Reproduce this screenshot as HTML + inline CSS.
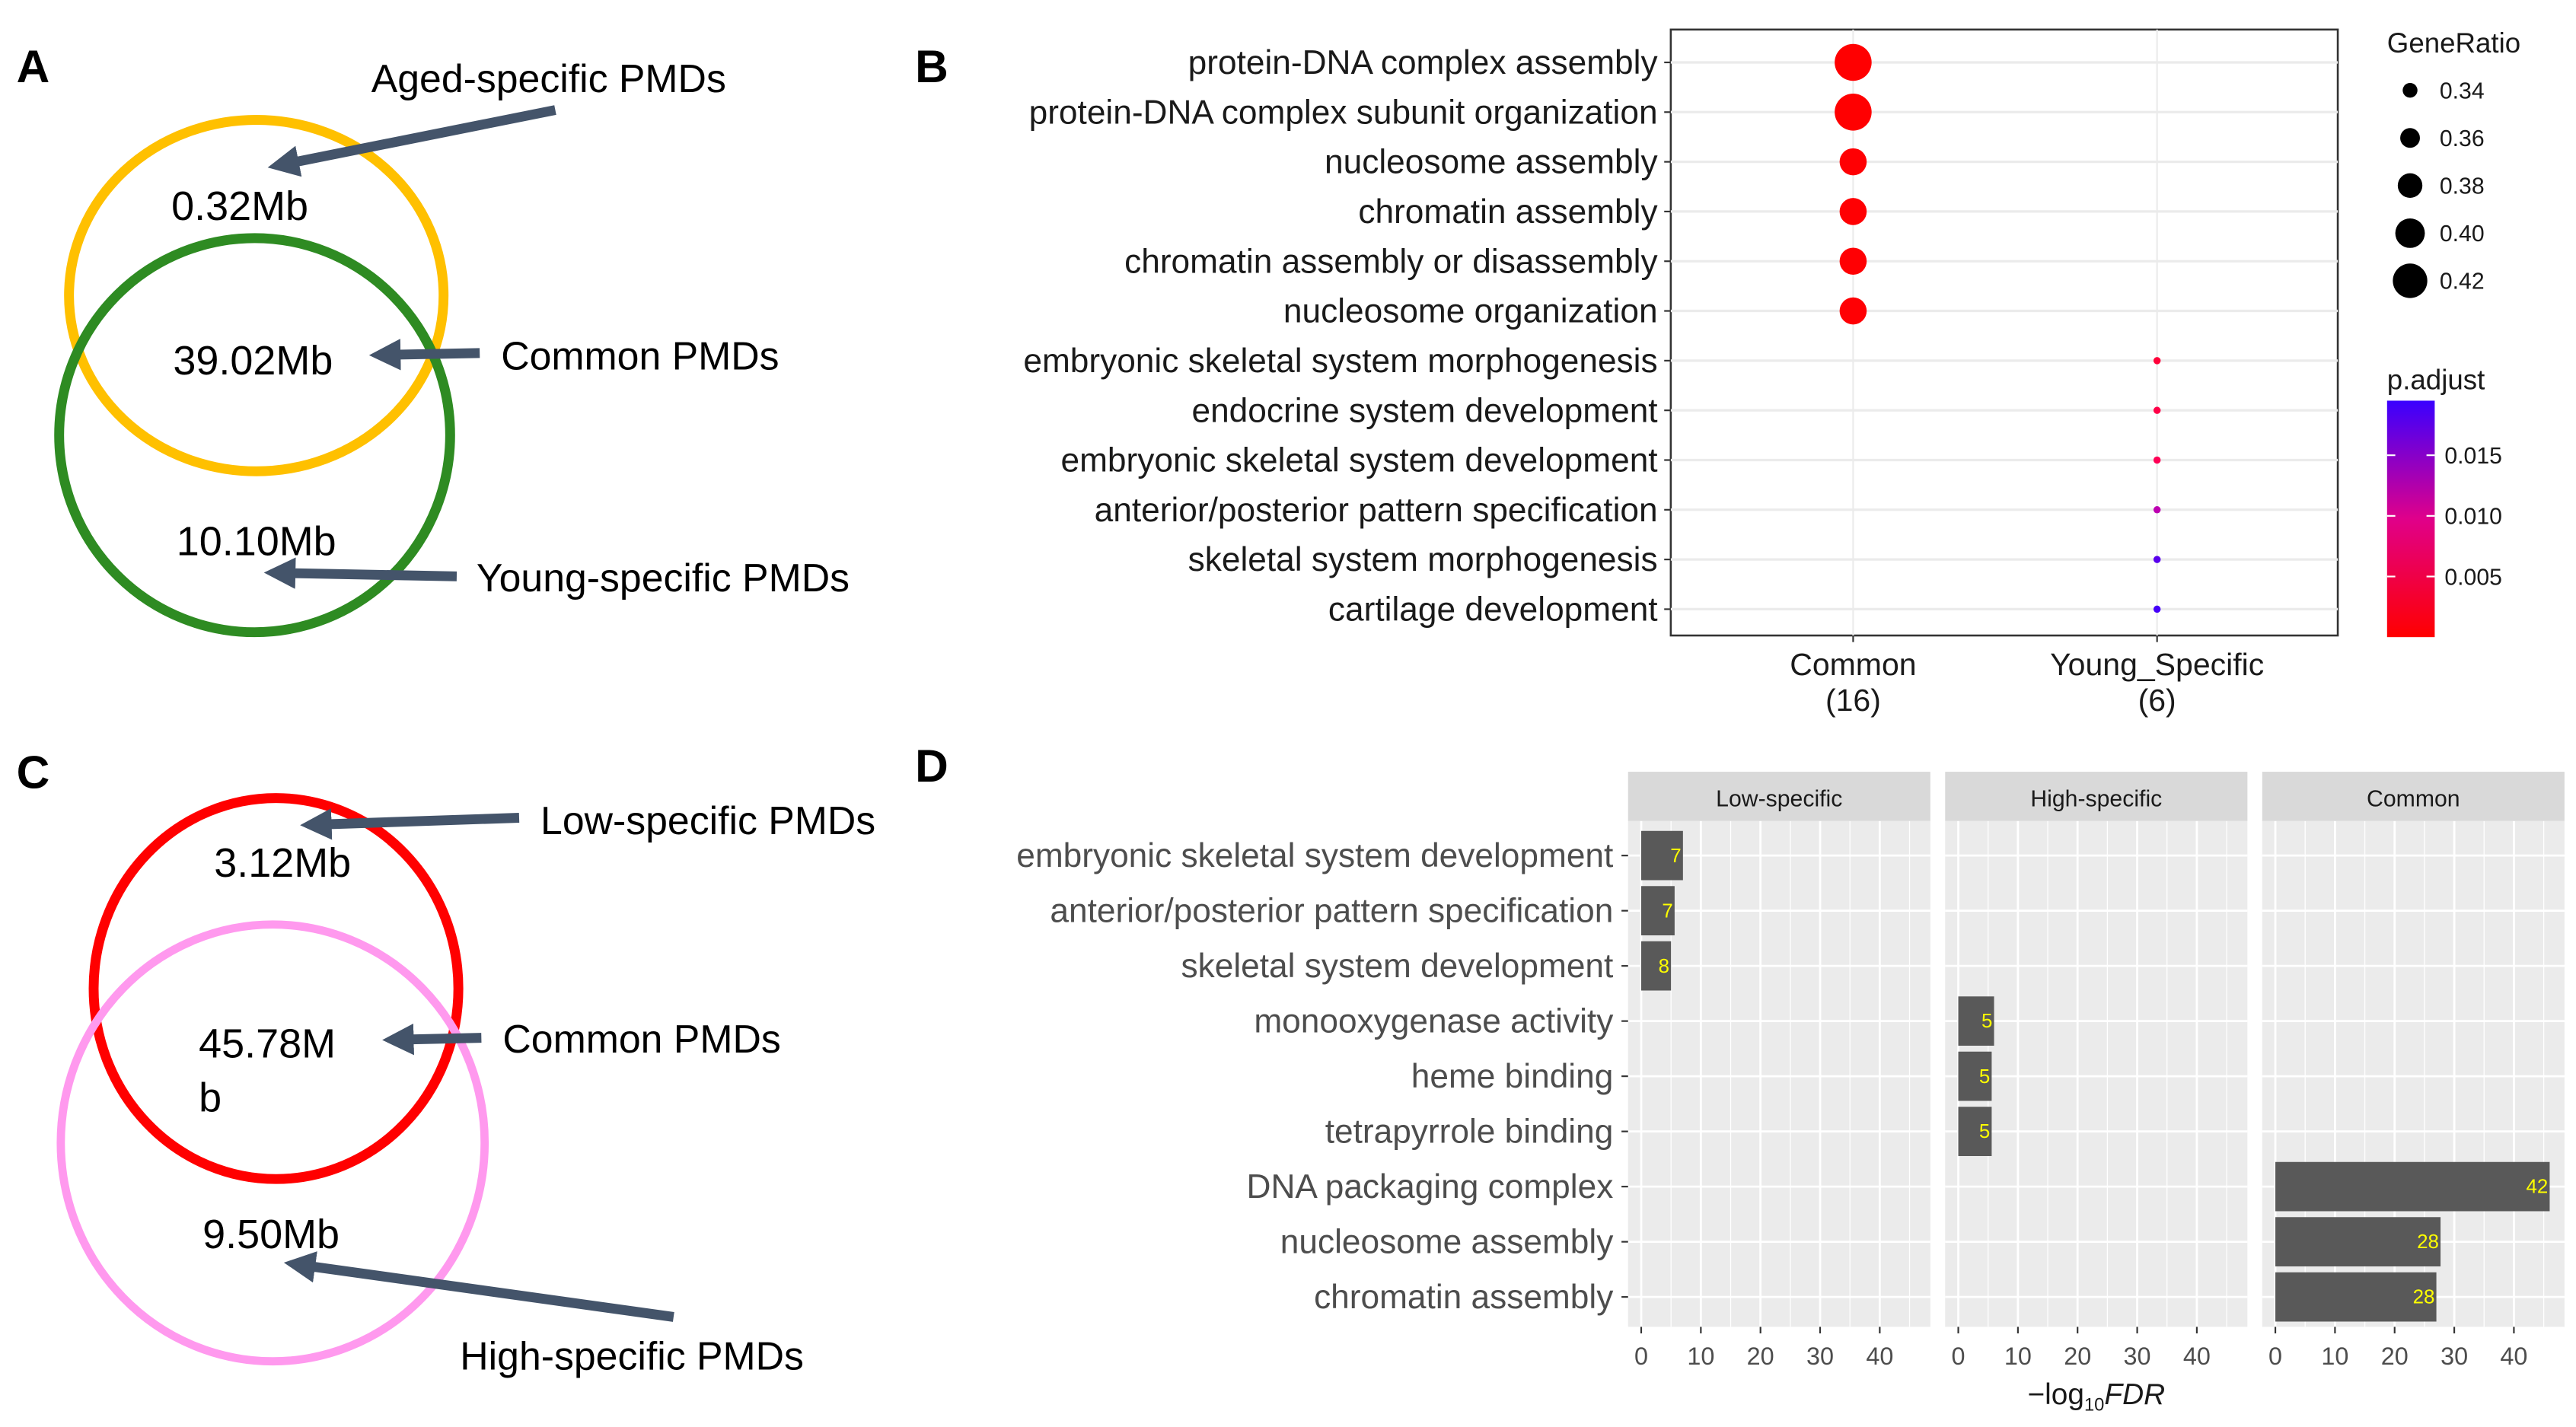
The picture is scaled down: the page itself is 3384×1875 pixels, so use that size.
<!DOCTYPE html>
<html><head><meta charset="utf-8">
<style>
html,body{margin:0;padding:0;background:#fff;}
svg{display:block;}
text{font-family:"Liberation Sans",sans-serif;}
</style></head>
<body>
<svg id="fig" width="3384" height="1875" viewBox="0 0 1568 869" preserveAspectRatio="none" xmlns="http://www.w3.org/2000/svg">
<defs>
<marker id="ah" viewBox="0 0 10 10" refX="2" refY="5" markerWidth="3.2" markerHeight="3.2" orient="auto"><path d="M0,0 L10,5 L0,10 z" fill="#44546a"/></marker>
<linearGradient id="pg" x1="0" y1="1" x2="0" y2="0"><stop offset="0" stop-color="#ff0000"/><stop offset="0.5" stop-color="#e0008a"/><stop offset="1" stop-color="#3a00ff"/></linearGradient>
</defs>

<!-- Panel A -->
<g>
<text x="10" y="50" font-size="28" font-weight="bold">A</text>
<ellipse cx="156" cy="180" rx="114" ry="107" fill="none" stroke="#ffc000" stroke-width="6"/>
<ellipse cx="155" cy="265" rx="119" ry="120" fill="none" stroke="#2e8b22" stroke-width="6"/>
<text x="146" y="134" font-size="25" text-anchor="middle">0.32Mb</text>
<text x="154" y="228" font-size="25" text-anchor="middle">39.02Mb</text>
<text x="156" y="338" font-size="25" text-anchor="middle">10.10Mb</text>
<line x1="338" y1="67" x2="178" y2="99" stroke="#44546a" stroke-width="6" marker-end="url(#ah)"/>
<line x1="292" y1="215" x2="240" y2="216" stroke="#44546a" stroke-width="6" marker-end="url(#ah)"/>
<line x1="278" y1="351" x2="176" y2="349" stroke="#44546a" stroke-width="6" marker-end="url(#ah)"/>
<text x="226" y="56" font-size="24">Aged-specific PMDs</text>
<text x="305" y="225" font-size="24">Common PMDs</text>
<text x="290" y="360" font-size="24">Young-specific PMDs</text>
</g>

<!-- Panel C -->
<g>
<text x="10" y="480" font-size="28" font-weight="bold">C</text>
<ellipse cx="168" cy="602" rx="111" ry="116" fill="none" stroke="#ff0000" stroke-width="6"/>
<ellipse cx="166" cy="696" rx="129" ry="133" fill="none" stroke="#ff99ee" stroke-width="5"/>
<text x="172" y="534" font-size="25" text-anchor="middle">3.12Mb</text>
<text x="121" y="644" font-size="25">45.78M</text>
<text x="121" y="677" font-size="25">b</text>
<text x="165" y="760" font-size="25" text-anchor="middle">9.50Mb</text>
<line x1="316" y1="498" x2="198" y2="502" stroke="#44546a" stroke-width="6" marker-end="url(#ah)"/>
<line x1="293" y1="632" x2="248" y2="633" stroke="#44546a" stroke-width="6" marker-end="url(#ah)"/>
<line x1="410" y1="802" x2="188" y2="771" stroke="#44546a" stroke-width="6" marker-end="url(#ah)"/>
<text x="329" y="508" font-size="24">Low-specific PMDs</text>
<text x="306" y="641" font-size="24">Common PMDs</text>
<text x="280" y="834" font-size="24">High-specific PMDs</text>
</g>

<text x="557" y="50" font-size="28" font-weight="bold">B</text>
<text x="557" y="476" font-size="28" font-weight="bold">D</text>
<g id="pb"></g>
<g id="pd"></g>
</svg>

<script>
const NS="http://www.w3.org/2000/svg";
// ---- Panel B data ----
const bTerms=["protein-DNA complex assembly","protein-DNA complex subunit organization","nucleosome assembly","chromatin assembly","chromatin assembly or disassembly","nucleosome organization","embryonic skeletal system morphogenesis","endocrine system development","embryonic skeletal system development","anterior/posterior pattern specification","skeletal system morphogenesis","cartilage development"];
const bGroups=["Common","Young_Specific"];
const bGroupCounts=["(16)","(6)"];
const bGroupOf=[0,0,0,0,0,0,1,1,1,1,1,1];
const bGeneRatio=[0.43,0.43,0.39,0.39,0.39,0.39,0.10,0.10,0.10,0.10,0.10,0.10];
const bPadj=[0.0001,0.0001,0.0002,0.0002,0.0002,0.0003,0.004,0.005,0.006,0.013,0.018,0.019];
const bLegendRatios=[0.34,0.36,0.38,0.40,0.42];
const bLegendTicks=[0.015,0.010,0.005];
// ---- Panel D data ----
const dTerms=["embryonic skeletal system development","anterior/posterior pattern specification","skeletal system development","monooxygenase activity","heme binding","tetrapyrrole binding","DNA packaging complex","nucleosome assembly","chromatin assembly"];
const dFacets=["Low-specific","High-specific","Common"];
const dFacetOf=[0,0,0,1,1,1,2,2,2];
const dLogFDR=[7,5.6,5,6,5.6,5.6,46,27.7,27];
const dCounts=[7,7,8,5,5,5,42,28,28];
const dTicks=[0,10,20,30,40];

function el(tag,attrs,parent,txt){const e=document.createElementNS(NS,tag);for(const k in attrs)e.setAttribute(k,attrs[k]);if(txt!==undefined)e.textContent=txt;parent.appendChild(e);return e;}

// ---- Panel B ----
(function(){
const g=document.getElementById('pb');
const X0=1017,X1=1423,Y0=18,Y1=387;
const yB=i=>38+i*30.27;
const xB=j=>[1128,1313][j];
const rB=v=>v<=0.2?2.2:4.5+(v-0.34)/0.02*1.5;
const pmax=0.0195;
function col(p){const t=Math.min(1,p/pmax);
 const m=t<0.5?[255,0,Math.round(138*t*2)]:[Math.round(255-(255-58)*(t-0.5)*2),0,Math.round(138+(255-138)*(t-0.5)*2)];return `rgb(${m[0]},${m[1]},${m[2]})`;}
let r=el('rect',{x:X0,y:Y0,width:X1-X0,height:Y1-Y0,fill:'#fff',stroke:'#333','stroke-width':1.2},g);

bGroups.forEach((gn,j)=>{
 let l=el('line',{x1:xB(j),x2:xB(j),y1:Y0,y2:Y1,stroke:'#ebebeb','stroke-width':1},g);
 
 el('line',{x1:xB(j),x2:xB(j),y1:Y1,y2:Y1+4,stroke:'#333','stroke-width':1},g);
 let t=el('text',{x:xB(j),y:411,'font-size':19,'text-anchor':'middle',fill:'#1a1a1a'},g,gn);
 
 let t2=el('text',{x:xB(j),y:433,'font-size':19,'text-anchor':'middle',fill:'#1a1a1a'},g,bGroupCounts[j]);
 
});
bTerms.forEach((term,i)=>{
 const y=yB(i);
 let l=el('line',{x1:X0,x2:X1,y1:y,y2:y,stroke:'#ebebeb','stroke-width':1.5},g);
 
 el('line',{x1:X0-4,x2:X0,y1:y,y2:y,stroke:'#333','stroke-width':1},g);
 let t=el('text',{x:X0-8,y:y+7,'font-size':20.5,'text-anchor':'end',fill:'#1a1a1a'},g,term);
 
 let c=el('circle',{cx:xB(bGroupOf[i]),cy:y,r:rB(bGeneRatio[i]),fill:col(bPadj[i])},g);
 
});
let lt=el('text',{x:1453,y:32,'font-size':17,fill:'#1a1a1a'},g,'GeneRatio');

bLegendRatios.forEach((v,k)=>{const y=55+k*29;
 let c=el('circle',{cx:1467,cy:y,r:rB(v),fill:'#000'},g);
 let t=el('text',{x:1485,y:y+5,'font-size':14,fill:'#1a1a1a'},g,v.toFixed(2));});
let pt=el('text',{x:1453,y:237,'font-size':17,fill:'#1a1a1a'},g,'p.adjust');

const CB0=244,CB1=388;
let cb=el('rect',{x:1453,y:CB0,width:29,height:CB1-CB0,fill:'url(#pg)'},g);

const yc=p=>CB1-p/pmax*(CB1-CB0);
bLegendTicks.forEach(p=>{const y=yc(p);
 el('line',{x1:1453,x2:1458,y1:y,y2:y,stroke:'#fff','stroke-width':1},g);
 el('line',{x1:1477,x2:1482,y1:y,y2:y,stroke:'#fff','stroke-width':1},g);
 let t=el('text',{x:1488,y:y+5,'font-size':14,fill:'#1a1a1a'},g,p.toFixed(3));});
})();

// ---- Panel D ----
(function(){
const g=document.getElementById('pd');
const PX=[991,1184,1377],PW=184,SY0=470,SY1=500,Y1=808;
const yD=i=>521+i*33.6;
const xD=(f,v)=>PX[f]+8+v*3.63;
dFacets.forEach((fn,f)=>{
 let s=el('rect',{x:PX[f],y:SY0,width:PW,height:SY1-SY0,fill:'#d9d9d9'},g);
 
 let st=el('text',{x:PX[f]+PW/2,y:491,'font-size':14,'text-anchor':'middle',fill:'#1a1a1a'},g,fn);
 
 let p=el('rect',{x:PX[f],y:SY1,width:PW,height:Y1-SY1,fill:'#ebebeb'},g);
 
 for(let v=5;v<50;v+=10){const x=xD(f,v);if(x<PX[f]+PW)el('line',{x1:x,x2:x,y1:SY1,y2:Y1,stroke:'#fff','stroke-width':0.6},g);}
 dTicks.forEach(v=>{const x=xD(f,v);
  el('line',{x1:x,x2:x,y1:SY1,y2:Y1,stroke:'#fff','stroke-width':1.3},g);
  el('line',{x1:x,x2:x,y1:Y1,y2:Y1+4,stroke:'#333','stroke-width':1},g);
  let t=el('text',{x:x,y:831,'font-size':15,'text-anchor':'middle',fill:'#4d4d4d'},g,String(v));
  });
 dTerms.forEach((term,i)=>el('line',{x1:PX[f],x2:PX[f]+PW,y1:yD(i),y2:yD(i),stroke:'#fff','stroke-width':1.3},g));
});
dTerms.forEach((term,i)=>{
 const y=yD(i);
 el('line',{x1:987,x2:991,y1:y,y2:y,stroke:'#333','stroke-width':1},g);
 let t=el('text',{x:982,y:y+7,'font-size':20.5,'text-anchor':'end',fill:'#4d4d4d'},g,term);
 
 const f=dFacetOf[i],x0=xD(f,0),x1=xD(f,dLogFDR[i]);
 let b=el('rect',{x:x0,y:y-15,width:x1-x0,height:30,fill:'#595959'},g);
 
 let bl=el('text',{x:x1-1,y:y+4,'font-size':12,'text-anchor':'end',fill:'#ffff00'},g,String(dCounts[i]));
 
});
let xt=el('text',{x:1276,y:855,'font-size':18,'text-anchor':'middle',fill:'#1a1a1a'},g);

el('tspan',{},xt,'\u2212log');el('tspan',{'font-size':11,dy:4},xt,'10');el('tspan',{dy:-4,'font-style':'italic'},xt,'FDR');
})();
</script>
</body></html>
